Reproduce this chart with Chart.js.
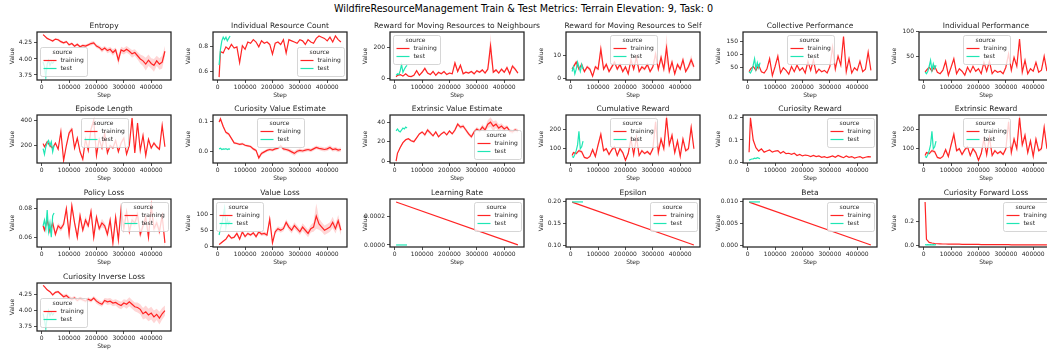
<!DOCTYPE html>
<html>
<head>
<meta charset="utf-8">
<script src="https://cdn.jsdelivr.net/npm/chart.js@4.4.0/dist/chart.umd.min.js"></script>
<style>
  body { margin: 0; background: #fff; width: 1047px; height: 354px; overflow: hidden; position: relative; font-family: "DejaVu Sans", sans-serif; }
  #mainTitle { position: absolute; left: 0; top: 3px; width: 1047px; text-align: center; font-size: 9.65px; line-height: 12px; color: #000; }
  canvas { position: absolute; }
</style>
</head>
<body>
<div id="mainTitle">WildfireResourceManagement Train &amp; Test Metrics: Terrain Elevation: 9, Task: 0</div>
<script>
// === Shared x values ===
const steps = [5000, 10000, 20000, 30000, 40000, 50000, 60000, 70000, 80000, 90000,
  100000, 110000, 120000, 130000, 140000, 150000, 160000, 170000, 180000, 190000,
  200000, 210000, 220000, 230000, 240000, 250000, 260000, 270000, 280000, 290000,
  300000, 310000, 320000, 330000, 340000, 350000, 360000, 370000, 380000, 390000,
  400000, 410000, 420000, 430000, 440000, 450000];
const testSteps = [5000, 10000, 15000, 20000, 25000, 30000, 35000, 40000, 45000];
const lineSteps = [5000, 450000];
const lineTestSteps = [5000, 45000];
const xTicks = [0, 100000, 200000, 300000, 400000];

// === Series (training / test / band half-width) ===
const entropyTrain = [4.38, 4.36, 4.32, 4.30, 4.28, 4.31, 4.30, 4.27, 4.25, 4.27,
  4.22, 4.24, 4.20, 4.23, 4.19, 4.21, 4.20, 4.22, 4.24, 4.25,
  4.20, 4.18, 4.14, 4.17, 4.13, 4.15, 4.10, 4.14, 3.98, 4.14,
  4.12, 4.15, 4.12, 4.08, 4.10, 4.05, 4.00, 3.97, 3.92, 3.98,
  3.93, 3.90, 3.97, 3.92, 3.95, 4.12];
const entropyTest = [3.95, 3.88, 3.72, 3.92, 3.98, 3.90, 3.95, 3.93, 3.96];
const entropySpread = [0.01, 0.01, 0.01, 0.01, 0.02, 0.01, 0.02, 0.02, 0.02, 0.02,
  0.02, 0.02, 0.02, 0.02, 0.02, 0.02, 0.03, 0.02, 0.03, 0.03,
  0.03, 0.03, 0.04, 0.03, 0.04, 0.04, 0.05, 0.04, 0.08, 0.05,
  0.05, 0.05, 0.05, 0.06, 0.05, 0.06, 0.07, 0.08, 0.10, 0.09,
  0.08, 0.10, 0.08, 0.09, 0.10, 0.08];

const resCountTrain = [0.55, 0.76, 0.75, 0.80, 0.78, 0.82, 0.79, 0.80, 0.67, 0.81,
  0.78, 0.84, 0.83, 0.86, 0.84, 0.80, 0.85, 0.83, 0.84, 0.82,
  0.74, 0.83, 0.84, 0.82, 0.86, 0.75, 0.86, 0.85, 0.84, 0.83,
  0.86, 0.85, 0.82, 0.86, 0.84, 0.83, 0.87, 0.89, 0.88, 0.87,
  0.85, 0.88, 0.84, 0.89, 0.86, 0.84];
const resCountTest = [0.65, 0.78, 0.85, 0.88, 0.86, 0.88, 0.85, 0.87, 0.89];

const neighTrain = [10, 20, 25, 15, 30, 15, 12, 20, 50, 20,
  40, 65, 35, 25, 45, 20, 40, 30, 45, 25,
  35, 30, 100, 45, 85, 30, 40, 35, 45, 30,
  50, 40, 55, 35, 60, 210, 40, 55, 35, 60,
  40, 70, 30, 80, 60, 35];
const neighTest = [20, 30, 25, 50, 90, 40, 60, 75, 85];
const neighSpread = [2, 3, 4, 3, 4, 3, 3, 4, 8, 4,
  6, 10, 6, 5, 8, 4, 6, 5, 8, 5,
  6, 5, 15, 8, 12, 5, 6, 6, 7, 5,
  8, 6, 8, 6, 10, 80, 6, 8, 6, 10,
  6, 12, 6, 14, 10, 6];

const selfTrain = [4, 5, 7, 4, 6, 3, 5, 4, 1, 5,
  4, 12.5, 4, 6, 3, 5, 7, 4, 6, 3,
  5, 2, 8, 4, 9, 3, 5, 4, 6, 3,
  5, 10.5, 4, 9, 4, 13, 3, 7, 2, 6,
  4, 8, 3, 5, 8, 5];
const selfTest = [3, 5, 2, 4, 7, 5, 3, 6, 4];
const selfSpread = [0.5, 0.8, 1, 0.8, 1, 0.6, 0.8, 0.8, 0.5, 0.8,
  0.8, 3, 0.8, 1, 0.6, 0.8, 1, 0.8, 1, 0.6,
  0.8, 0.5, 1.5, 0.8, 1.5, 0.6, 0.8, 0.8, 1, 0.6,
  0.8, 3, 0.8, 2, 0.8, 6, 0.6, 1.5, 0.5, 1,
  0.8, 1.5, 0.6, 1, 2, 1];

const collectiveTrain = [35, 45, 55, 40, 60, 35, 30, 45, 85, 20,
  55, 95, 30, 50, 40, 25, 55, 35, 60, 40,
  50, 30, 75, 40, 80, 30, 45, 35, 40, 30,
  55, 130, 45, 95, 60, 170, 35, 85, 30, 50,
  40, 75, 35, 45, 110, 40];
const collectiveTest = [35, 30, 40, 60, 85, 45, 70, 50, 70];

const individualTrain = [18, 22, 28, 20, 30, 18, 15, 22, 40, 12,
  28, 45, 15, 25, 20, 12, 28, 18, 30, 20,
  25, 15, 38, 20, 40, 15, 22, 18, 20, 15,
  28, 55, 22, 48, 30, 85, 18, 42, 15, 25,
  20, 38, 18, 22, 50, 20];
const individualTest = [18, 15, 20, 30, 42, 22, 35, 25, 32];

const episodeTrain = [215, 190, 230, 200, 180, 220, 170, 310, 80, 200,
  300, 330, 180, 260, 150, 90, 250, 160, 330, 400,
  120, 250, 180, 300, 140, 200, 180, 240, 150, 220,
  260, 130, 200, 420, 140, 380, 160, 280, 120, 250,
  180, 220, 190, 170, 360, 190];
const episodeTest = [175, 130, 190, 220, 240, 200, 230, 150, 200];
const episodeSpread = [10, 10, 15, 15, 10, 12, 10, 20, 10, 12,
  20, 20, 10, 15, 10, 8, 15, 10, 20, 25,
  10, 15, 12, 20, 10, 12, 12, 15, 10, 15,
  15, 10, 12, 25, 10, 25, 10, 18, 10, 15,
  12, 15, 12, 12, 20, 12];

const curValTrain = [0.100, 0.110, 0.085, 0.065, 0.060, 0.045, 0.030, 0.028, 0.025, 0.027,
  0.022, 0.020, 0.018, 0.010, 0.005, -0.020, -0.005, 0.000, 0.005, 0.008,
  0.006, 0.010, 0.012, 0.020, 0.010, 0.008, 0.005, 0.000, -0.005, 0.002,
  0.005, 0.003, 0.006, 0.008, 0.005, 0.010, 0.015, 0.012, 0.010, 0.008,
  0.010, 0.015, 0.008, 0.010, 0.006, 0.008];
const curValTest = [0.010, 0.012, 0.008, 0.010, 0.009, 0.011, 0.008, 0.010, 0.009];
const curValSpread = [0.005, 0.008, 0.006, 0.005, 0.005, 0.004, 0.004, 0.004, 0.004, 0.004,
  0.004, 0.004, 0.004, 0.005, 0.005, 0.008, 0.006, 0.005, 0.005, 0.005,
  0.005, 0.005, 0.005, 0.006, 0.006, 0.006, 0.006, 0.007, 0.008, 0.007,
  0.006, 0.006, 0.006, 0.006, 0.006, 0.006, 0.006, 0.006, 0.007, 0.007,
  0.007, 0.007, 0.007, 0.007, 0.007, 0.007];

const extValTrain = [0, 8, 14, 19, 22, 23, 21, 20, 24, 28,
  30, 27, 32, 29, 26, 30, 25, 28, 30, 27,
  31, 28, 32, 38, 35, 36, 32, 28, 25, 30,
  33, 31, 35, 32, 38, 40, 36, 38, 34, 36,
  33, 35, 31, 30, 32, 31];
const extValTest = [31, 33, 31, 30, 32, 34, 33, 35, 34];
const extValSpread = [0, 1, 1, 1, 1, 1, 1, 1, 1, 1,
  1, 2, 2, 2, 1, 1, 1, 1, 1, 1,
  1, 1, 2, 2, 2, 2, 2, 2, 2, 2,
  2, 2, 3, 3, 4, 5, 5, 4, 4, 3,
  3, 2, 2, 2, 2, 2];

const rewardTrain = [65, 80, 75, 90, 85, 55, 50, 60, 95, 60,
  120, 175, 90, 100, 70, 95, 110, 65, 100, 80,
  40, 75, 150, 70, 160, 65, 90, 75, 85, 70,
  100, 240, 80, 150, 100, 260, 120, 170, 80, 140,
  60, 150, 90, 100, 210, 100];
const rewardTest = [60, 55, 70, 90, 120, 190, 100, 110, 140];
const rewardSpread = [5, 6, 6, 8, 8, 5, 5, 5, 10, 6,
  12, 20, 8, 8, 6, 8, 10, 6, 10, 8,
  5, 6, 15, 6, 15, 6, 8, 6, 8, 6,
  10, 30, 8, 15, 10, 40, 12, 20, 8, 15,
  6, 15, 8, 10, 25, 10];

const curRewTrain = [0.045, 0.200, 0.100, 0.065, 0.050, 0.060, 0.045, 0.050, 0.055, 0.045,
  0.050, 0.052, 0.040, 0.048, 0.038, 0.040, 0.035, 0.040, 0.030, 0.035,
  0.028, 0.032, 0.030, 0.025, 0.030, 0.025, 0.028, 0.022, 0.025, 0.020,
  0.024, 0.028, 0.022, 0.030, 0.025, 0.020, 0.028, 0.022, 0.025, 0.018,
  0.022, 0.025, 0.018, 0.022, 0.025, 0.024];
const curRewTest = [0.008, 0.012, 0.014, 0.015, 0.018, 0.016, 0.020, 0.018, 0.015];

const policyTrain = [0.068, 0.065, 0.072, 0.064, 0.070, 0.062, 0.068, 0.066, 0.069, 0.080,
  0.062, 0.082, 0.070, 0.060, 0.075, 0.065, 0.072, 0.068, 0.078, 0.060,
  0.074, 0.066, 0.070, 0.068, 0.062, 0.072, 0.056, 0.074, 0.058, 0.080,
  0.066, 0.078, 0.064, 0.072, 0.070, 0.076, 0.062, 0.068, 0.074, 0.060,
  0.082, 0.066, 0.070, 0.064, 0.075, 0.056];
const policyTest = [0.068, 0.072, 0.066, 0.079, 0.064, 0.070, 0.060, 0.075, 0.077];
const policySpread = [0.002, 0.002, 0.003, 0.002, 0.003, 0.002, 0.002, 0.002, 0.002, 0.003,
  0.003, 0.003, 0.002, 0.003, 0.003, 0.002, 0.003, 0.002, 0.003, 0.003,
  0.003, 0.002, 0.003, 0.002, 0.003, 0.003, 0.003, 0.003, 0.003, 0.004,
  0.003, 0.003, 0.003, 0.003, 0.003, 0.004, 0.003, 0.003, 0.003, 0.003,
  0.004, 0.003, 0.003, 0.003, 0.003, 0.003];

const valueLossTrain = [5, 8, 15, 22, 35, 25, 28, 40, 22, 45,
  30, 40, 35, 42, 30, 45, 38, 40, 35, 85,
  10, 45, 55, 50, 55, 75, 60, 50, 65, 55,
  45, 60, 50, 40, 55, 60, 95, 70, 60, 50,
  55, 60, 75, 55, 80, 50];
const valueLossTest = [35, 55, 70, 95, 120, 60, 85, 70, 80];
const valueLossSpread = [1, 2, 3, 3, 4, 4, 4, 5, 5, 5,
  5, 5, 5, 5, 6, 6, 6, 6, 6, 10,
  6, 8, 8, 8, 8, 10, 10, 10, 10, 10,
  10, 12, 12, 12, 12, 15, 40, 18, 15, 15,
  15, 15, 18, 15, 18, 15];

const lrTrain = [0.000297, 0.0000007];
const lrTest = [0.0, 0.0];
const epsTrain = [0.1995, 0.1002];
const epsTest = [0.2, 0.2];
const betaTrain = [0.00995, 0.00001];
const betaTest = [0.01, 0.01];

const fwdTrain = [0.36, 0.05, 0.025, 0.02, 0.016, 0.014, 0.013, 0.012, 0.012, 0.011,
  0.011, 0.010, 0.010, 0.010, 0.009, 0.009, 0.009, 0.008, 0.008, 0.008,
  0.008, 0.007, 0.007, 0.007, 0.007, 0.007, 0.006, 0.006, 0.006, 0.006,
  0.006, 0.006, 0.005, 0.005, 0.005, 0.005, 0.005, 0.005, 0.005, 0.005,
  0.004, 0.004, 0.004, 0.004, 0.004, 0.004];
const fwdTest = [0.006, 0.005, 0.006, 0.005, 0.006, 0.005, 0.006, 0.005, 0.006];

const invTrain = [4.40, 4.38, 4.33, 4.30, 4.25, 4.29, 4.30, 4.26, 4.22, 4.24,
  4.20, 4.18, 4.20, 4.16, 4.19, 4.17, 4.15, 4.18, 4.16, 4.20,
  4.15, 4.12, 4.10, 4.16, 4.14, 4.15, 4.12, 4.13, 4.10, 4.08,
  4.12, 4.10, 4.14, 4.10, 4.06, 4.05, 4.02, 3.95, 3.98, 3.93,
  3.96, 3.90, 3.94, 3.88, 3.95, 4.00];
const invTest = [3.95, 3.85, 3.72, 3.90, 4.00, 3.92, 3.97, 3.93, 3.96];
const invSpread = [0.01, 0.01, 0.01, 0.01, 0.02, 0.02, 0.02, 0.02, 0.03, 0.03,
  0.03, 0.03, 0.03, 0.03, 0.03, 0.03, 0.03, 0.03, 0.03, 0.03,
  0.04, 0.04, 0.04, 0.04, 0.05, 0.05, 0.05, 0.05, 0.06, 0.06,
  0.06, 0.07, 0.07, 0.07, 0.07, 0.08, 0.08, 0.09, 0.10, 0.10,
  0.10, 0.10, 0.09, 0.10, 0.09, 0.08];

// === Panels: what goes where ===
const panels = [
  { title: "Entropy", row: 0, col: 0, x: steps, train: entropyTrain, test: entropyTest, spread: entropySpread,
    yMin: 3.672, yMax: 4.42, yTicks: [3.75, 4.0, 4.25], yLabels: ["3.75", "4.00", "4.25"], legend: "lower left" },
  { title: "Individual Resource Count", row: 0, col: 1, x: steps, train: resCountTrain, test: resCountTest,
    yMin: 0.526, yMax: 0.923, yTicks: [0.6, 0.8], yLabels: ["0.6", "0.8"], legend: "lower right" },
  { title: "Reward for Moving Resources to Neighbours", row: 0, col: 2, x: steps, train: neighTrain, test: neighTest, spread: neighSpread,
    yMin: -10, yMax: 300, yTicks: [0, 200], yLabels: ["0", "200"], legend: "upper left" },
  { title: "Reward for Moving Resources to Self", row: 0, col: 3, x: steps, train: selfTrain, test: selfTest, spread: selfSpread,
    yMin: -0.6, yMax: 19.8, yTicks: [0, 10], yLabels: ["0", "10"], legend: "upper center" },
  { title: "Collective Performance", row: 0, col: 4, x: steps, train: collectiveTrain, test: collectiveTest,
    yMin: 3, yMax: 188, yTicks: [50, 100, 150], yLabels: ["50", "100", "150"], legend: "upper center" },
  { title: "Individual Performance", row: 0, col: 5, x: steps, train: individualTrain, test: individualTest,
    yMin: 2.3, yMax: 99, yTicks: [50, 100], yLabels: ["50", "100"], legend: "upper center" },

  { title: "Episode Length", row: 1, col: 0, x: steps, train: episodeTrain, test: episodeTest, spread: episodeSpread,
    yMin: 60, yMax: 444, yTicks: [200, 400], yLabels: ["200", "400"], legend: "upper center" },
  { title: "Curiosity Value Estimate", row: 1, col: 1, x: steps, train: curValTrain, test: curValTest, spread: curValSpread,
    yMin: -0.037, yMax: 0.123, yTicks: [0, 0.1], yLabels: ["0.0", "0.1"], legend: "upper center" },
  { title: "Extrinsic Value Estimate", row: 1, col: 2, x: steps, train: extValTrain, test: extValTest, spread: extValSpread,
    yMin: -1.9, yMax: 47.4, yTicks: [0, 20, 40], yLabels: ["0", "20", "40"], legend: "lower right" },
  { title: "Cumulative Reward", row: 1, col: 3, x: steps, train: rewardTrain, test: rewardTest, spread: rewardSpread,
    yMin: 26, yMax: 275, yTicks: [100, 200], yLabels: ["100", "200"], legend: "upper center" },
  { title: "Curiosity Reward", row: 1, col: 4, x: steps, train: curRewTrain, test: curRewTest,
    yMin: -0.004, yMax: 0.213, yTicks: [0, 0.1, 0.2], yLabels: ["0.0", "0.1", "0.2"], legend: "upper right" },
  { title: "Extrinsic Reward", row: 1, col: 5, x: steps, train: rewardTrain, test: rewardTest, spread: rewardSpread,
    yMin: 26, yMax: 275, yTicks: [100, 200], yLabels: ["100", "200"], legend: "upper center" },

  { title: "Policy Loss", row: 2, col: 0, x: steps, train: policyTrain, test: policyTest, spread: policySpread,
    yMin: 0.0531, yMax: 0.0868, yTicks: [0.06, 0.08], yLabels: ["0.06", "0.08"], legend: "upper right" },
  { title: "Value Loss", row: 2, col: 1, x: steps, train: valueLossTrain, test: valueLossTest, spread: valueLossSpread,
    yMin: -3, yMax: 149, yTicks: [0, 50, 100], yLabels: ["0", "50", "100"], legend: "upper left" },
  { title: "Learning Rate", row: 2, col: 2, x: lineSteps, tx: lineTestSteps, train: lrTrain, test: lrTest,
    yMin: -0.000014, yMax: 0.000318, yTicks: [0, 0.0002], yLabels: ["0.0000", "0.0002"], legend: "upper right" },
  { title: "Epsilon", row: 2, col: 3, x: lineSteps, tx: lineTestSteps, train: epsTrain, test: epsTest,
    yMin: 0.0955, yMax: 0.2068, yTicks: [0.1, 0.15, 0.2], yLabels: ["0.10", "0.15", "0.20"], legend: "upper right" },
  { title: "Beta", row: 2, col: 4, x: lineSteps, tx: lineTestSteps, train: betaTrain, test: betaTest,
    yMin: -0.00045, yMax: 0.01068, yTicks: [0, 0.005, 0.01], yLabels: ["0.000", "0.005", "0.010"], legend: "upper right" },
  { title: "Curiosity Forward Loss", row: 2, col: 5, x: steps, train: fwdTrain, test: fwdTest,
    yMin: -0.013, yMax: 0.384, yTicks: [0, 0.2], yLabels: ["0.0", "0.2"], legend: "upper right" },

  { title: "Curiosity Inverse Loss", row: 3, col: 0, x: steps, train: invTrain, test: invTest, spread: invSpread,
    yMin: 3.676, yMax: 4.438, yTicks: [3.75, 4.0, 4.25], yLabels: ["3.75", "4.00", "4.25"], legend: "lower left" }
];

// === Layout ===
const colLeft = [37, 213, 390, 566, 743, 919];
const rowTop = [32, 115, 199, 283];
const PLOT_W = 134, PLOT_H = 48, AXIS_W = 37, TITLE_H = 20, XAXIS_H = 22, PAD_R = 24;
const X_MIN = -17250, X_MAX = 472250;
const TRAIN_COLOR = "#ff2424";
const TEST_COLOR = "#1fe6b4";
const BAND_COLOR = "rgba(255, 50, 50, 0.2)";
const INK = "#262626";

Chart.defaults.font.family = '"DejaVu Sans", sans-serif';
Chart.defaults.font.size = 6;
Chart.defaults.color = INK;

// === Plugin: frame, panel title, matplotlib-like legend ===
const panelDeco = {
  id: "panelDeco",
  afterDraw(chart, args, opts) {
    const { ctx, chartArea: a } = chart;
    ctx.save();
    ctx.strokeStyle = "#222";
    ctx.lineWidth = 1.25;
    ctx.strokeRect(a.left, a.top, a.right - a.left, a.bottom - a.top);

    ctx.fillStyle = INK;
    ctx.font = '7.5px "DejaVu Sans"';
    ctx.textAlign = "center";
    ctx.textBaseline = "alphabetic";
    ctx.fillText(opts.title, (a.left + a.right) / 2, a.top - 4.5);

    const w = 47, h = 29;
    let x, y;
    if (opts.legend.includes("left")) x = a.left + 3;
    else if (opts.legend.includes("right")) x = a.right - 3 - w;
    else x = (a.left + a.right) / 2 - w / 2;
    y = opts.legend.startsWith("upper") ? a.top + 3 : a.bottom - 4 - h;
    x = Math.round(x) + 0.5;
    y = Math.round(y) + 0.5;

    ctx.beginPath();
    ctx.roundRect(x, y, w, h, 2);
    ctx.fillStyle = "rgba(255,255,255,0.8)";
    ctx.fill();
    ctx.strokeStyle = "#cccccc";
    ctx.lineWidth = 0.8;
    ctx.stroke();

    ctx.font = '6px "DejaVu Sans"';
    ctx.fillStyle = INK;
    ctx.textBaseline = "middle";
    ctx.fillText("source", x + 22, y + 5);
    [["training", TRAIN_COLOR, 13], ["test", TEST_COLOR, 21]].forEach(([label, color, dy]) => {
      ctx.beginPath();
      ctx.strokeStyle = color;
      ctx.lineWidth = 1.2;
      ctx.moveTo(x + 3, y + dy);
      ctx.lineTo(x + 16, y + dy);
      ctx.stroke();
      ctx.fillStyle = INK;
      ctx.textAlign = "left";
      ctx.fillText(label, x + 20, y + dy);
    });
    ctx.restore();
  }
};

// === Build every panel ===
panels.forEach(p => {
  const w = AXIS_W + PLOT_W + PAD_R;
  const h = TITLE_H + PLOT_H + XAXIS_H;
  const canvas = document.createElement("canvas");
  canvas.width = w;
  canvas.height = h;
  canvas.style.left = (colLeft[p.col] - AXIS_W) + "px";
  canvas.style.top = (rowTop[p.row] - TITLE_H) + "px";
  canvas.style.width = w + "px";
  canvas.style.height = h + "px";
  document.body.appendChild(canvas);

  const tx = p.tx || testSteps;
  const datasets = [
    { label: "test", data: tx.map((x, i) => ({ x, y: p.test[i] })), borderColor: TEST_COLOR, borderWidth: 1.2 },
    { label: "training", data: p.x.map((x, i) => ({ x, y: p.train[i] })), borderColor: TRAIN_COLOR, borderWidth: 1.2 }
  ];
  if (p.spread) {
    datasets.push({ label: "lo", data: p.x.map((x, i) => ({ x, y: p.train[i] - p.spread[i] })), borderWidth: 0, borderColor: "rgba(0,0,0,0)" });
    datasets.push({ label: "hi", data: p.x.map((x, i) => ({ x, y: p.train[i] + p.spread[i] })), borderWidth: 0, borderColor: "rgba(0,0,0,0)", fill: 2, backgroundColor: BAND_COLOR });
  }

  new Chart(canvas, {
    type: "line",
    data: { datasets },
    options: {
      responsive: false,
      animation: false,
      devicePixelRatio: 1,
      layout: { padding: { top: TITLE_H, right: PAD_R, left: 0, bottom: 0 } },
      elements: { point: { radius: 0 }, line: { tension: 0 } },
      plugins: {
        legend: { display: false },
        tooltip: { enabled: false },
        panelDeco: { title: p.title, legend: p.legend }
      },
      scales: {
        x: {
          type: "linear", min: X_MIN, max: X_MAX,
          afterBuildTicks: s => { s.ticks = xTicks.map(v => ({ value: v })); },
          afterFit: s => { s.height = XAXIS_H; s.paddingLeft = 0; s.paddingRight = 0; },
          grid: { drawOnChartArea: false, tickLength: 3, color: INK, lineWidth: 0.8 },
          border: { display: false },
          ticks: { padding: 1, maxRotation: 0, autoSkip: false, callback: v => String(v) },
          title: { display: true, text: "Step", padding: { top: 0, bottom: 3 } }
        },
        y: {
          min: p.yMin, max: p.yMax,
          afterBuildTicks: s => { s.ticks = p.yTicks.map(v => ({ value: v })); },
          afterFit: s => { s.width = AXIS_W; s.paddingTop = 0; s.paddingBottom = 0; },
          grid: { drawOnChartArea: false, tickLength: 3, color: INK, lineWidth: 0.8 },
          border: { display: false },
          ticks: { padding: 2, autoSkip: false, callback: v => p.yLabels[p.yTicks.indexOf(v)] },
          title: { display: true, text: "Value", padding: { top: 9, bottom: 0 } }
        }
      }
    },
    plugins: [panelDeco]
  });
});
</script>
</body>
</html>
